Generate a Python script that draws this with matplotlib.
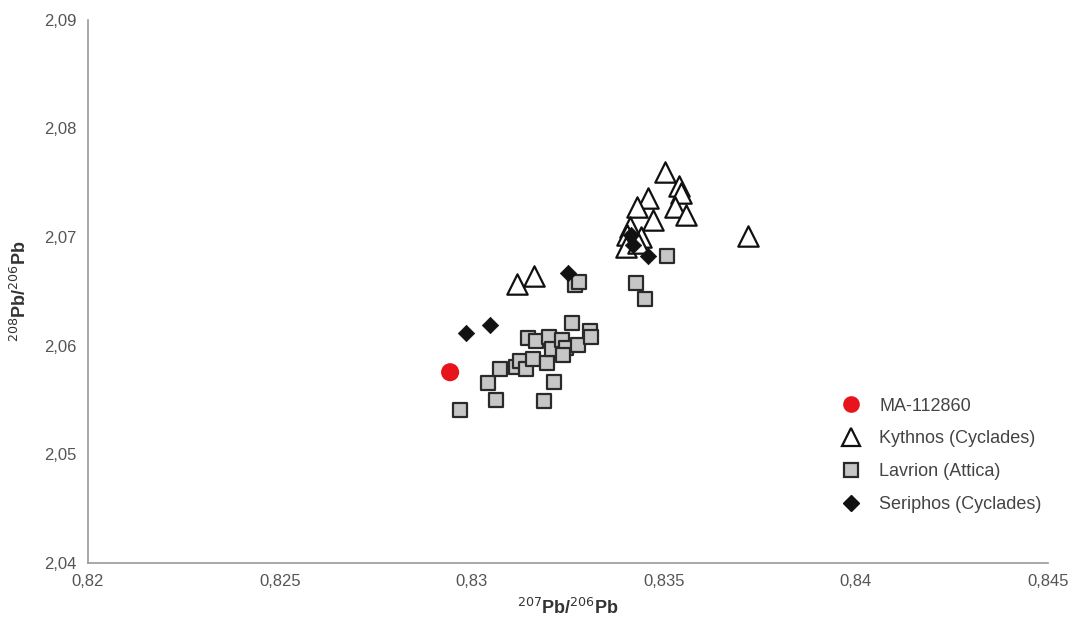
import matplotlib
matplotlib.use("Agg")
import matplotlib.pyplot as plt
from matplotlib.ticker import FuncFormatter, FixedLocator
from matplotlib.lines import Line2D

plt.rcParams['font.family'] = ['Liberation Sans', 'DejaVu Sans']

sample_x = [0.82943]
sample_y = [2.05756]

kythnos_x = [0.83117, 0.83161, 0.83503, 0.83539, 0.83544, 0.83529, 0.83557, 0.83458,
             0.83430, 0.83471, 0.83411, 0.83404, 0.83440, 0.83401, 0.83432, 0.83719]
kythnos_y = [2.06569, 2.06643, 2.07595, 2.07466, 2.07401, 2.07281, 2.07207, 2.07355,
             2.07272, 2.07161, 2.07096, 2.07022, 2.07004, 2.06911, 2.06948, 2.07013]

lavrion_x = [0.82969, 0.83042, 0.83063, 0.83073, 0.83115, 0.83125, 0.83141, 0.83159,
             0.83195, 0.83188, 0.83214, 0.83146, 0.83167, 0.83201, 0.83208, 0.83234,
             0.83245, 0.83237, 0.83276, 0.83260, 0.83307, 0.83310, 0.83268, 0.83279,
             0.83427, 0.83450, 0.83508]
lavrion_y = [2.05405, 2.05654, 2.05497, 2.05784, 2.05802, 2.05858, 2.05784, 2.05876,
             2.05839, 2.05488, 2.05664, 2.06070, 2.06043, 2.06080, 2.05969, 2.06052,
             2.05978, 2.05913, 2.06006, 2.06209, 2.06135, 2.06080, 2.06560, 2.06588,
             2.06579, 2.06431, 2.06828]

seriphos_x = [0.82984, 0.83047, 0.83250, 0.83414, 0.83420, 0.83458]
seriphos_y = [2.06116, 2.06190, 2.06671, 2.07020, 2.06930, 2.06828]

x_ticks = [0.82, 0.825, 0.83, 0.835, 0.84, 0.845]
y_ticks = [2.04, 2.05, 2.06, 2.07, 2.08, 2.09]

fig = plt.figure(figsize=(10.73, 6.23), dpi=100)
ax = fig.add_axes([0.082, 0.0963, 0.8947, 0.872])

ax.scatter(lavrion_x, lavrion_y, marker='s', s=115, facecolor='#c6c6c6',
           edgecolor='#2a2a2a', linewidth=1.6, zorder=3)
ax.scatter(kythnos_x, kythnos_y, marker='^', s=215, facecolor='white',
           edgecolor='#111111', linewidth=1.6, zorder=2)
ax.scatter(seriphos_x, seriphos_y, marker='D', s=70, facecolor='#111111',
           edgecolor='#111111', linewidth=0.5, zorder=4)
ax.scatter(sample_x, sample_y, marker='o', s=170, facecolor='#e8141b',
           edgecolor='none', zorder=5)

ax.set_xlim(0.82, 0.845)
ax.set_ylim(2.04, 2.09)
ax.xaxis.set_major_locator(FixedLocator(x_ticks))
ax.yaxis.set_major_locator(FixedLocator(y_ticks))
fmt = FuncFormatter(lambda v, p: ('%g' % round(v, 4)).replace('.', ','))
ax.xaxis.set_major_formatter(fmt)
ax.yaxis.set_major_formatter(fmt)
ax.tick_params(length=0, labelsize=12, labelcolor='#555555', pad=8)

for s in ['top', 'right']:
    ax.spines[s].set_visible(False)
for s in ['left', 'bottom']:
    ax.spines[s].set_color('#999999')
    ax.spines[s].set_linewidth(1.2)

ax.set_xlabel(r'$^{207}$Pb/$^{206}$Pb', fontsize=13, fontweight='bold',
              color='#333333', labelpad=6)
ax.set_ylabel(r'$^{208}$Pb/$^{206}$Pb', fontsize=13, fontweight='bold',
              color='#333333', labelpad=10)

handles = [
    Line2D([], [], marker='o', ls='none', markersize=12, markerfacecolor='#e8141b',
           markeredgecolor='none'),
    Line2D([], [], marker='^', ls='none', markersize=13, markerfacecolor='white',
           markeredgecolor='#111111', markeredgewidth=1.6),
    Line2D([], [], marker='s', ls='none', markersize=10, markerfacecolor='#c6c6c6',
           markeredgecolor='#2a2a2a', markeredgewidth=1.6),
    Line2D([], [], marker='D', ls='none', markersize=8, markerfacecolor='#111111',
           markeredgecolor='#111111'),
]
labels = ['MA-112860', 'Kythnos (Cyclades)', 'Lavrion (Attica)', 'Seriphos (Cyclades)']
leg = fig.legend(handles, labels, loc='upper left', bbox_to_anchor=(0.768, 0.388),
                 frameon=False, fontsize=13, handletextpad=0.95, labelspacing=0.88,
                 handlelength=1.2)
for t in leg.get_texts():
    t.set_color('#444444')

fig.savefig('out.png', dpi=100)
